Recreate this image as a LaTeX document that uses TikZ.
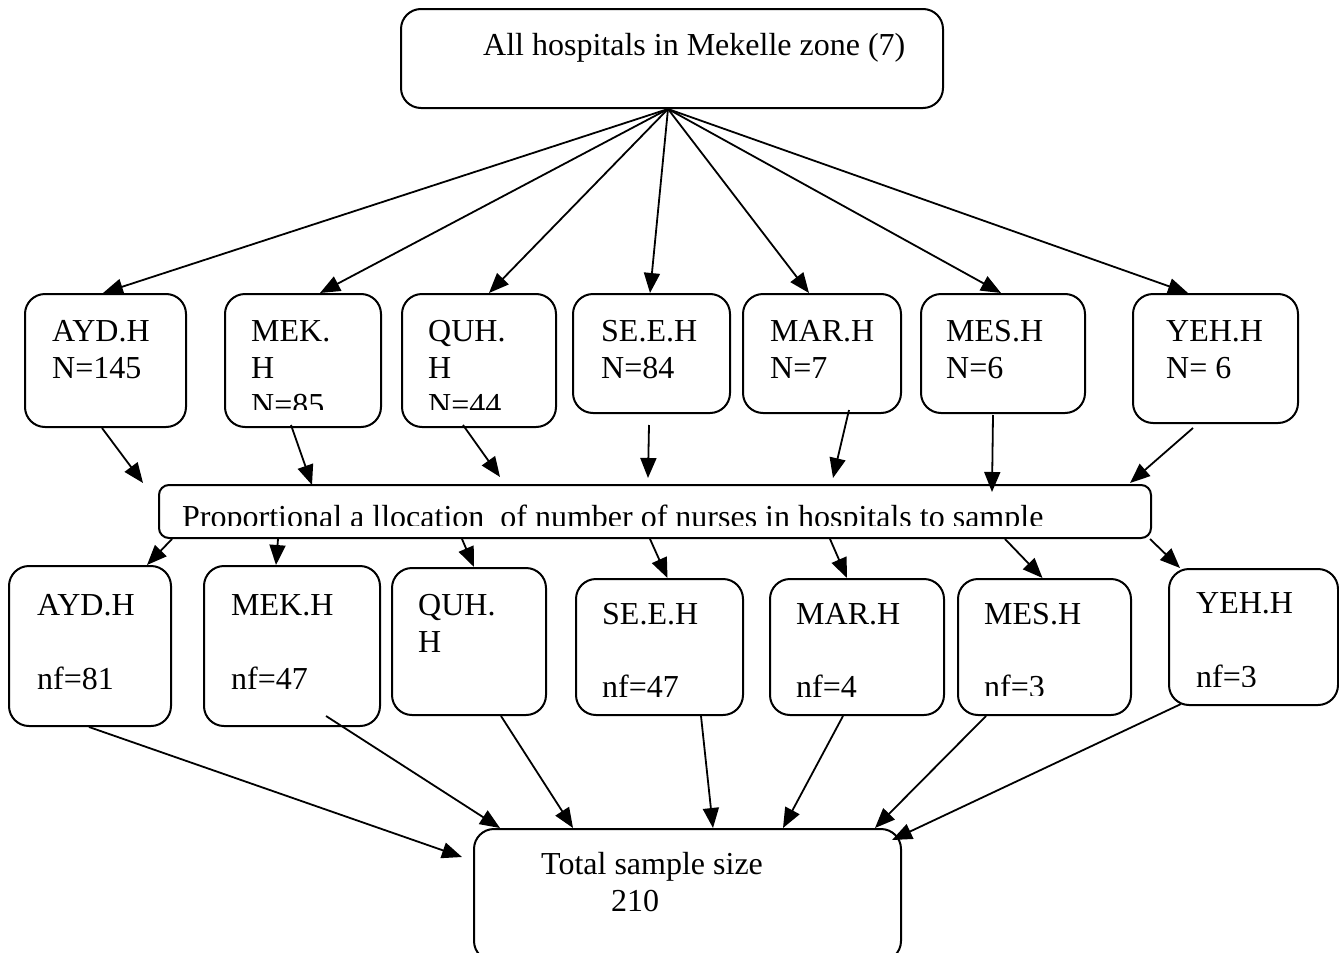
\documentclass[tikz,border=0pt]{standalone}
\usepackage{fontspec}
\setmainfont{Liberation Serif}
\usetikzlibrary{arrows.meta, calc, positioning}

\begin{document}
\begin{tikzpicture}[x=1pt, y=-1pt,
  hbox/.style={draw, rounded corners=20pt, line width=2pt, anchor=north west,
    inner sep=0pt},
  txt/.style={anchor=north west, align=left, inner sep=0pt,
    font=\fontsize{32}{37}\selectfont},
  arr/.style={-{Triangle[length=20pt, width=16pt]}, line width=1.8pt},
]
\useasboundingbox (0,0) rectangle (1339,953);

%% Top box
\node[hbox, minimum width=542, minimum height=99] (top) at (400,8) {};
\node[txt] (ttop) at (483,33) {All hospitals in Mekelle zone (7)};
\coordinate (hub) at ([xshift=-4pt]top.south);

%% Row 1 -- hospitals with N
\node[hbox, minimum width=161, minimum height=133] (a1) at (24,293) {};
\node[hbox, minimum width=156, minimum height=133] (b1) at (224,293) {};
\node[hbox, minimum width=154, minimum height=133] (c1) at (401,293) {};
\node[hbox, minimum width=157, minimum height=119] (d1) at (572,293) {};
\node[hbox, minimum width=158, minimum height=119] (e1) at (742,293) {};
\node[hbox, minimum width=164, minimum height=119] (f1) at (920,293) {};
\node[hbox, minimum width=165, minimum height=129] (g1) at (1132,293) {};

\node[txt] (ta1) at (52,320) {AYD.H\\N=145};
\begin{scope}
  \clip (224,293) rectangle (380,409);
  \node[txt] (tb1) at (251,320) {MEK.\\H\\N=85};
\end{scope}
\begin{scope}
  \clip (401,293) rectangle (555,409);
  \node[txt] (tc1) at (428,320) {QUH.\\H\\N=44};
\end{scope}
\node[txt] (td1) at (601,320) {SE.E.H\\N=84};
\node[txt] (te1) at (770,320) {MAR.H\\N=7};
\node[txt] (tf1) at (946,320) {MES.H\\N=6};
\node[txt] (tg1) at (1166,320) {YEH.H\\N= 6};

%% Allocation box
\node[hbox, rounded corners=10pt, minimum width=992, minimum height=53]
  (prop) at (158,484) {};
\begin{scope}
  \clip (158,484) rectangle (1150,525);
  \node[txt] (tprop) at (182,505)
    {Proportional a llocation\ \ of number of nurses in hospitals to sample};
\end{scope}

%% Row 2 -- hospitals with nf
\node[hbox, minimum width=162, minimum height=160] (a2) at (8,565) {};
\node[hbox, minimum width=176, minimum height=160] (b2) at (203,565) {};
\node[hbox, minimum width=154, minimum height=147] (c2) at (391,567) {};
\node[hbox, minimum width=167, minimum height=136] (d2) at (575,578) {};
\node[hbox, minimum width=174, minimum height=136] (e2) at (769,578) {};
\node[hbox, minimum width=173, minimum height=136] (f2) at (957,578) {};
\node[hbox, minimum width=169, minimum height=136] (g2) at (1168,568) {};

\node[txt] (ta2) at (37,594) {AYD.H\\[37pt]nf=81};
\node[txt] (tb2) at (231,594) {MEK.H\\[37pt]nf=47};
\node[txt] (tc2) at (418,594) {QUH.\\H};
\node[txt] (td2) at (602,603) {SE.E.H\\[36pt]nf=47};
\node[txt] (te2) at (796,603) {MAR.H\\[36pt]nf=4};
\begin{scope}
  \clip (957,578) rectangle (1130,695);
  \node[txt] (tf2) at (984,603) {MES.H\\[36pt]nf=3};
\end{scope}
\begin{scope}
  \clip (1168,568) rectangle (1337,686);
  \node[txt] (tg2) at (1196,592) {YEH.H\\[37pt]nf=3};
\end{scope}

%% Total
\node[hbox, minimum width=427, minimum height=132] (tot) at (473,828) {};
\node[txt] (ttot) at (541,852) {Total sample size\\\hspace*{70pt}210};

%% Arrows top -> row 1
\foreach \b/\dx in {a1/-2.5, b1/17, c1/10, d1/-1.5, e1/-13, f1/-2, g1/-27.5}{
  \draw[arr] (hub) -- ([xshift=\dx]\b.north);
}

%% Arrows row 1 -> allocation
\foreach \b/\sx/\sy/\ex/\ey in {
  a1/-3.5/0/-15/-1, b1/-12/-3/154/1, c1/-16/-3/342/-7, d1/-2.5/11/490/-6,
  e1/27/-4/675/-6, f1/-10/1/834/8, g1/-22.5/4/972/-1}{
  \draw[arr] ([shift={(\sx,\sy)}]\b.south) -- ([shift={(\ex,\ey)}]prop.north west);
}

%% Arrows allocation -> row 2
\foreach \b/\sx/\dx in {
  a2/14/57, b2/120/-16, c2/304/5, d2/492/8, e2/672/-10, f2/847/-2, g2/992/-73.5}{
  \draw[arr] ([xshift=\sx]prop.south west) -- ([xshift=\dx]\b.north);
}

%% Arrows row 2 -> total
\foreach \b/\sx/\sy/\ex/\ey in {
  a2/-1/0/-11/29, b2/34/-11/27/0, c2/32/0/100/0, d2/41.5/0/240/0,
  e2/-14/0/310/0, f2/-58.5/0/402/0, g2/-72.5/-2/419/12}{
  \draw[arr] ([shift={(\sx,\sy)}]\b.south) -- ([shift={(\ex,\ey)}]tot.north west);
}
\end{tikzpicture}
\end{document}
